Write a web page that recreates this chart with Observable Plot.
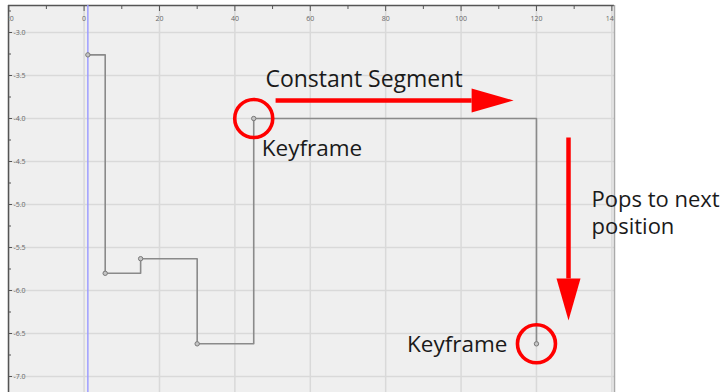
<!DOCTYPE html>
<html><head><meta charset="utf-8">
<script src="https://cdn.jsdelivr.net/npm/d3@7"></script>
<script src="https://cdn.jsdelivr.net/npm/@observablehq/plot@0.6"></script>
<style>html,body{margin:0;padding:0;background:#fff;} svg{display:block;background:#fff}</style>
</head><body><div id="chart"></div>
<script>
// Keyframes of a constant (stepped) animation curve
const keyFrames = [1, 5.6, 15, 30, 45, 120];
const keyValues = [-3.26, -5.80, -5.63, -6.62, -4.0, -6.62];
const currentFrame = [1];

// Axis ticks
const xMajorTicks = [-20, 0, 20, 40, 60, 80, 100, 120, 140];
const xMinorTicks = [-10, 10, 30, 50, 70, 90, 110, 130];
const yMajorTicks = [-3.0, -3.5, -4.0, -4.5, -5.0, -5.5, -6.0, -6.5, -7.0];
const yMinorTicks = [-2.75, -3.25, -3.75, -4.25, -4.75, -5.25, -5.75, -6.25, -6.75];
const xDomain = [-20.05, 140.7];
const yDomain = [-7.186, -2.686];

// Annotations (in data units)
const highlightedKeys = [4, 5];
const segmentLabel = ["Constant Segment"];
const segmentLabelPos = [{x: 48.1, y: -3.547}];
const segmentArrow = [{x1: 50.8, x2: 102.8, y: -3.79}];
const popLabel = ["Pops to next\nposition"];
const popLabelPos = [{x: 134.6, y: -5.087}];
const popArrow = [{x: 128.5, y1: -4.221, y2: -5.86}];

const keys = keyFrames.map((f, i) => ({frame: f, value: keyValues[i]}));

const headRight = {draw(ctx) { ctx.moveTo(0, -12); ctx.lineTo(42, 0); ctx.lineTo(0, 12); ctx.closePath(); }};

const red = "#ff0000";
const font = "'Open Sans', sans-serif";
const ink = "#1a1a1a";

const chart = Plot.plot({
  width: 727, height: 392,
  marginLeft: 8, marginRight: 113, marginTop: 5, marginBottom: 0,
  style: {fontFamily: font, background: "#fff"},
  x: {domain: xDomain, axis: null},
  y: {domain: yDomain, axis: null},
  marks: [
    Plot.frame({fill: "#efefef", stroke: null}),
    Plot.gridX(xMajorTicks, {stroke: "#d9d9d9", strokeOpacity: 1, strokeWidth: 1.5}),
    Plot.gridY(yMajorTicks, {stroke: "#d9d9d9", strokeOpacity: 1, strokeWidth: 1.5}),
    Plot.ruleY([yDomain[1]], {stroke: "#555", strokeWidth: 1.5}),
    Plot.ruleX([xDomain[0]], {stroke: "#555", strokeWidth: 1.5}),
    Plot.ruleX([xDomain[1]], {stroke: "#aaa", strokeWidth: 1.5}),
    Plot.axisX({anchor: "top", ticks: xMajorTicks, tickSize: -5, tickFormat: () => "", stroke: "#555"}),
    Plot.axisX({anchor: "top", ticks: xMinorTicks, tickSize: -3, tickFormat: () => "", stroke: "#555"}),
    Plot.axisY({anchor: "left", ticks: yMajorTicks, tickSize: -4, tickFormat: () => "", stroke: "#555"}),
    Plot.axisY({anchor: "left", ticks: yMinorTicks, tickSize: -3, tickFormat: () => "", stroke: "#555"}),
    Plot.text(xMajorTicks, {x: d => d, frameAnchor: "top", dy: 11, text: d => String(d), fontSize: 7, fill: "#666", clip: true}),
    Plot.text(yMajorTicks, {y: d => d, frameAnchor: "left", dx: 5, textAnchor: "start", text: d => d.toFixed(1), fontSize: 7, fill: "#666"}),
    Plot.ruleX(currentFrame, {stroke: "#9d9dff", strokeWidth: 1.5}),
    Plot.line(keys, {x: "frame", y: "value", curve: "step-after", stroke: "#8a8a8a", strokeWidth: 1.6}),
    Plot.dot(keys, {x: "frame", y: "value", r: 2.2, fill: "#c4c4c4", stroke: "#7a7a7a", strokeWidth: 1}),
    // annotations
    Plot.dot(highlightedKeys.map(i => keys[i]), {x: "frame", y: "value", r: 19, stroke: red, strokeWidth: 3.6, fill: "none"}),
    Plot.text([keys[4]], {x: "frame", y: "value", text: () => "Keyframe", dx: 8, dy: 30, textAnchor: "start", fontSize: 22.5, fill: ink}),
    Plot.text([keys[5]], {x: "frame", y: "value", text: () => "Keyframe", dx: -29, dy: 1, textAnchor: "end", fontSize: 22.5, fill: ink}),
    Plot.text(segmentLabelPos, {x: "x", y: "y", text: (d, i) => segmentLabel[i], textAnchor: "start", fontSize: 23, fill: ink}),
    Plot.link(segmentArrow, {x1: "x1", x2: "x2", y1: "y", y2: "y", stroke: red, strokeWidth: 4.5}),
    Plot.dot(segmentArrow, {x: "x2", y: "y", symbol: headRight, fill: red, stroke: null}),
    Plot.text(popLabelPos, {x: "x", y: "y", text: (d, i) => popLabel[i], textAnchor: "start", fontSize: 22, lineHeight: 1.24, letterSpacing: "0.4px", fill: ink}),
    Plot.link(popArrow, {x1: "x", x2: "x", y1: "y1", y2: "y2", stroke: red, strokeWidth: 4.5}),
    Plot.dot(popArrow, {x: "x", y: "y2", symbol: headRight, rotate: 90, fill: red, stroke: null})
  ]
});
document.getElementById("chart").appendChild(chart);
</script>
</body></html>
